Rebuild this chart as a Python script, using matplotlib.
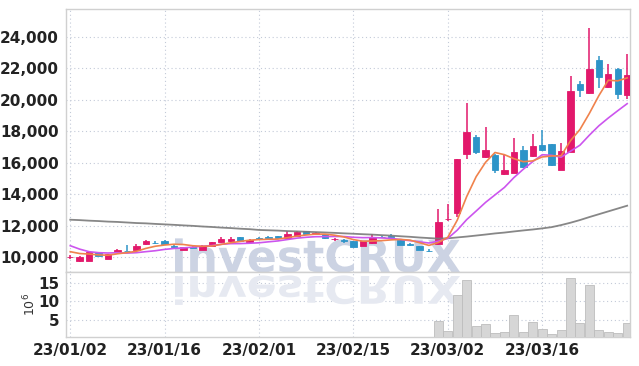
import matplotlib
matplotlib.use("Agg")
import matplotlib.pyplot as plt
import matplotlib.transforms as mtransforms
import numpy as np
import pandas as pd
from matplotlib.font_manager import FontProperties
from matplotlib.patches import PathPatch
from matplotlib.textpath import TextPath

plt.rcParams["font.family"] = ["Liberation Sans Narrow", "DejaVu Sans"]

# KRX trading days, 2023-01-02 .. 2023-03-29
holidays = ["2023-01-23", "2023-01-24", "2023-03-01"]
dates = pd.bdate_range("2023-01-02", "2023-03-29", freq="C", holidays=holidays)

opens = [9980, 9750, 9770, 10300, 9870, 10300, 10400, 10460, 10800, 10900,
         11015, 10700, 10465, 10620, 10465, 10720, 10930, 11015, 11250, 10960,
         11225, 11250, 11330, 11200, 11350, 11650, 11480, 11440, 11130, 11070,
         11015, 10700, 10870, 11290, 11310, 11080, 10810, 10700, 10410, 10825,
         12420, 12815, 16540, 17640, 16370, 16500, 15270, 15355, 16800, 16415,
         17110, 17175, 15525, 16690, 20985, 20395, 22510, 20775, 21920, 20290]
highs = [10100, 10080, 10340, 10320, 10220, 10480, 10760, 10800, 11100, 11020,
         11060, 10750, 10650, 10680, 10740, 10960, 11250, 11300, 11270, 11150,
         11260, 11320, 11350, 11650, 11650, 11680, 11580, 11460, 11230, 11120,
         11030, 11030, 11480, 11330, 11480, 11100, 10900, 10720, 10500, 13030,
         13365, 16250, 19760, 17760, 18275, 16550, 16480, 17540, 17050, 17790,
         18065, 17200, 17260, 21520, 21150, 24520, 22760, 22235, 22020, 22890]
lows = [9880, 9700, 9760, 10060, 9850, 10280, 10370, 10440, 10750, 10800,
        10750, 10600, 10430, 10560, 10440, 10700, 10910, 10950, 11000, 10900,
        11100, 11200, 11180, 11150, 11330, 11460, 11460, 11170, 11050, 10900,
        10620, 10680, 10800, 11200, 11200, 10760, 10700, 10430, 10300, 10760,
        12300, 12560, 16200, 16570, 16300, 15330, 15230, 15330, 15650, 16350,
        16750, 15780, 15500, 16650, 20180, 20350, 20710, 20710, 20015, 20050]
closes = [9990, 10020, 10300, 10080, 10190, 10445, 10380, 10720, 11000, 10880,
          10845, 10620, 10635, 10600, 10720, 10930, 11140, 11140, 11035, 11110,
          11120, 11240, 11200, 11480, 11605, 11480, 11520, 11190, 11140, 11050,
          10635, 11015, 11250, 11260, 11290, 10780, 10790, 10445, 10390, 12220,
          12440, 16220, 17940, 16690, 16800, 15545, 15525, 16670, 15735, 17050,
          16800, 15840, 16730, 20540, 20600, 21920, 21450, 21620, 20350, 21540]
# closes of the 9 sessions before the window (for the 5/10 day averages)
prev_closes = [12200, 11920, 10700, 10400, 10280, 10600, 10470, 10350, 10290]
# 60 day average
ma60 = [12370, 12345, 12310, 12285, 12250, 12230, 12195, 12160, 12140, 12105,
        12075, 12045, 12010, 11980, 11940, 11910, 11870, 11840, 11800, 11770,
        11720, 11700, 11680, 11650, 11630, 11605, 11585, 11560, 11535, 11505,
        11480, 11450, 11425, 11390, 11360, 11320, 11285, 11240, 11205, 11170,
        11190, 11245, 11300, 11365, 11430, 11500, 11555, 11625, 11690, 11750,
        11820, 11900, 12030, 12180, 12350, 12540, 12720, 12900, 13080, 13260]
# volume, millions of shares
volumes = [0.2, 0.1, 0.3, 0.1, 0.2, 0.1, 0.2, 0.1, 0.2, 0.1,
           0.1, 0.1, 0.1, 0.1, 0.2, 0.1, 0.2, 0.2, 0.1, 0.1,
           0.1, 0.1, 0.1, 0.2, 0.2, 0.1, 0.1, 0.1, 0.1, 0.1,
           0.2, 0.2, 0.2, 0.1, 0.1, 0.1, 0.1, 0.2, 0.2, 4.6,
           2.0, 11.7, 15.6, 3.3, 3.8, 1.5, 1.8, 6.3, 1.8, 4.5,
           2.6, 1.2, 2.3, 16.2, 4.2, 14.4, 2.3, 1.8, 1.5, 4.2]

UP = "#e2186b"
DOWN = "#2d94c8"
GRID = "#c3cad8"
SPINE = "#d0d0d0"

o = np.array(opens)
h = np.array(highs)
l = np.array(lows)
c = np.array(closes)
x = np.arange(len(c))
colors = np.where(c >= o, UP, DOWN)

all_close = pd.Series(prev_closes + closes)
ma5 = all_close.rolling(5).mean().iloc[len(prev_closes):].to_numpy()
ma10 = all_close.rolling(10).mean().iloc[len(prev_closes):].to_numpy()

fig = plt.figure(figsize=(6.39, 3.66), dpi=100)
ax = fig.add_axes([0.1033, 0.2568, 0.8826, 0.7186])
axv = fig.add_axes([0.1033, 0.0779, 0.8826, 0.1789], sharex=ax)

# watermark + reflection, in display pixels
fp = FontProperties(family=["Liberation Sans Narrow", "DejaVu Sans"], weight="bold")
tp = TextPath((0, 0), "investCRUX", size=100, prop=fp)
ext = tp.get_extents()
s = 285 / ext.width
x0 = 175 - ext.x0 * s
mark = PathPatch(tp, transform=mtransforms.Affine2D().scale(s).translate(x0, 94),
                 facecolor="#ccd3e3", edgecolor="none", zorder=1.5)
ax.add_artist(mark)
refl = PathPatch(tp, transform=mtransforms.Affine2D().scale(s, -0.86 * s).translate(x0, 90),
                 facecolor="#e6e9f1", edgecolor="none", zorder=1.5)
axv.add_artist(refl)

ax.vlines(x, l, h, color=colors, lw=1.1, zorder=3)
ax.bar(x, c - o, bottom=o, width=0.68, color=colors, edgecolor=colors, lw=0.6, zorder=4)
ax.plot(x, ma60, color="#7a7a7a", lw=1.3, alpha=0.9, zorder=5)
ax.plot(x, ma10, color="#cc55ee", lw=1.2, zorder=6)
ax.plot(x, ma5, color="#f0824c", lw=1.2, zorder=7)

axv.bar(x, volumes, width=0.96, color="#d6d6d6", edgecolor="#bdbdbd", lw=0.6, zorder=3)

ax.set_xlim(-0.45, 59.3)
ax.set_ylim(9050, 25750)
axv.set_ylim(0.3, 17.85)

yt = list(range(10000, 24001, 2000))
ax.set_yticks(yt)
ax.set_yticklabels([f"{v:,}" for v in yt])
tick_idx = [0, 10, 20, 30, 40, 50]
axv.set_xticks(tick_idx)
axv.set_xticklabels([dates[i].strftime("%y/%m/%d") for i in tick_idx])
axv.set_yticks([5, 10, 15])
axv.set_ylabel(r"$10^6$", fontsize=9, color="#333333", labelpad=0)

for a in (ax, axv):
    a.grid(True, ls=(0, (1, 2.5)), color=GRID, lw=0.8, zorder=0)
    a.set_axisbelow(True)
    a.tick_params(length=0, labelsize=11, pad=5, colors="#222222")
    for lab in a.get_xticklabels() + a.get_yticklabels():
        lab.set_fontweight("bold")
    for sp in a.spines.values():
        sp.set_color(SPINE)
        sp.set_linewidth(1.0)
ax.tick_params(axis="x", labelbottom=False)
axv.tick_params(axis="x", pad=4)

fig.savefig("out.png", dpi=100)
